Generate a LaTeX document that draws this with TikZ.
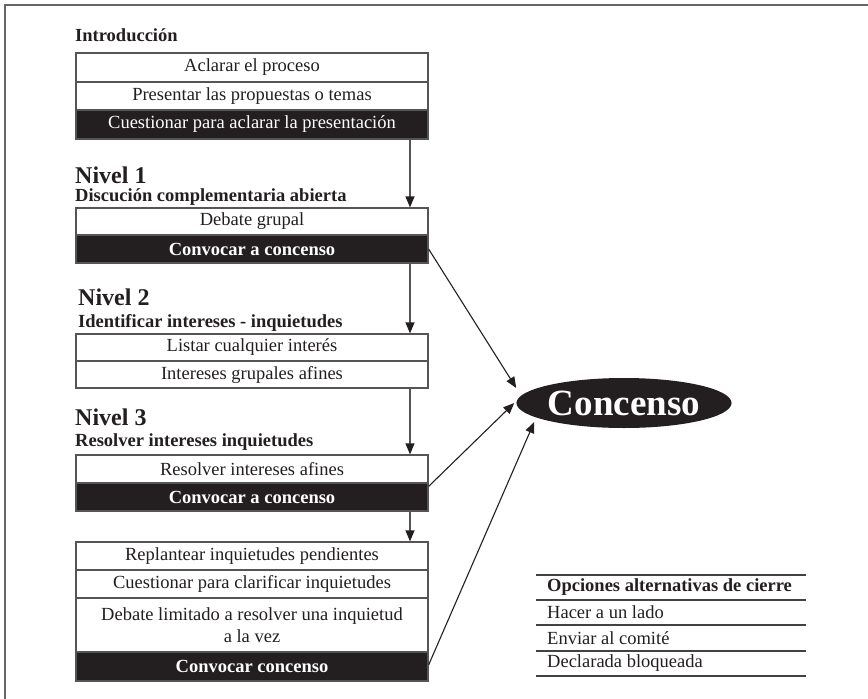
\documentclass[tikz,border=0pt]{standalone}
\usepackage{fontspec}
\setmainfont{Liberation Serif}
\usetikzlibrary{arrows.meta,shapes.geometric,calc}
\definecolor{ink}{HTML}{231F20}
\definecolor{edge}{HTML}{555555}
\begin{document}
\begin{tikzpicture}[x=1pt,y=-1pt,
  row/.style={draw=edge, line width=1.2pt, minimum width=352pt, inner sep=0pt,
    align=center, font=\fontsize{18.5}{22}\selectfont},
  wrow/.style={row, fill=white, text=ink},
  brow/.style={row, fill=ink, text=white},
  bbrow/.style={brow, font=\fontsize{18.5}{22}\selectfont\bfseries},
  head/.style={anchor=base west, inner sep=0pt, text=ink,
    font=\fontsize{18.5}{22}\selectfont\bfseries},
  level/.style={anchor=base west, inner sep=0pt, text=ink,
    font=\fontsize{24}{28}\selectfont\bfseries},
  flow/.style={draw=edge, line width=1.2pt, -{Triangle[length=11pt,width=9pt,color=ink]}},
  toward/.style={draw=ink, line width=1.1pt, -{Triangle[length=11pt,width=9pt,color=ink]}},
  opt/.style={anchor=west, inner sep=0pt, text=ink, font=\fontsize{18.5}{22}\selectfont},
  optrule/.style={draw=ink!85, line width=1.5pt},
]
\useasboundingbox (0,0) rectangle (868,699);
\clip (0,0) rectangle (868,699);

% outer frame
\draw[draw=gray!80!black, line width=1.5pt] (5,5) rectangle (880,710);

% column of the flow arrows
\coordinate (ax) at (410,0);

% introduction
\node[head] (hIntro) at (75,41) {Introducción};
\node[wrow, minimum height=29pt] (i1) at (252,67.5) {Aclarar el proceso};
\node[wrow, minimum height=28pt] (i2) at (252,96) {Presentar las propuestas o temas};
\node[brow, minimum height=29pt] (i3) at (252,124.5) {Cuestionar para aclarar la presentación};

% level 1
\node[level] (n1) at (75,183) {Nivel 1};
\node[head] (h1) at (75,201) {Discución complementaria abierta};
\node[wrow, minimum height=27pt] (d1) at (252,221.5) {Debate grupal};
\node[bbrow, minimum height=28pt] (d2) at (252,249) {Convocar a concenso};

% level 2
\node[level] (n2) at (78,305) {Nivel 2};
\node[head] (h2) at (78,327) {Identificar intereses - inquietudes};
\node[wrow, minimum height=27pt] (l1) at (252,347.5) {Listar cualquier interés};
\node[wrow, minimum height=27pt] (l2) at (252,374.5) {Intereses grupales afines};

% level 3
\node[level] (n3) at (75,425) {Nivel 3};
\node[head] (h3) at (75,446) {Resolver intereses inquietudes};
\node[wrow, minimum height=28pt] (r1) at (252,469) {Resolver intereses afines};
\node[bbrow, minimum height=28pt] (r2) at (252,497) {Convocar a concenso};

% final stage
\node[wrow, minimum height=28pt] (p1) at (252,556) {Replantear inquietudes pendientes};
\node[wrow, minimum height=28pt] (p2) at (252,584) {Cuestionar para clarificar inquietudes};
\node[wrow, minimum height=54pt] (p3) at (252,625) {Debate limitado a resolver una inquietud\\a la vez};
\node[bbrow, minimum height=29pt] (p4) at (252,666.5) {Convocar concenso};

% consensus
\node[ellipse, fill=ink, minimum width=208pt, minimum height=50pt, inner sep=0pt,
  text=white, font=\fontsize{37}{40}\selectfont\bfseries] (cons) at (624,403) {Concenso};

% downward flow
\draw[flow] (i3.south -| ax) -- (d1.north -| ax);
\draw[flow] (d2.south -| ax) -- (l1.north -| ax);
\draw[flow] (l2.south -| ax) -- (r1.north -| ax);
\draw[flow] (r2.south -| ax) -- (p1.north -| ax);

% calls to consensus
\draw[toward] (d2.east) -- ($(cons.west)+(0,-15)$);
\draw[toward] ($(r2.north east)+(0,4)$) -- ($(cons.west)+(-2,0)$);
\draw[toward] ($(p4.east)+(0,-1.5)$) -- ($(cons.west)+(18,19)$);

% alternative closing options
\node[opt, font=\fontsize{18.5}{22}\selectfont\bfseries] (o0) at (547,587.5) {Opciones alternativas de cierre};
\node[opt] (o1) at (547,612.5) {Hacer a un lado};
\node[opt] (o2) at (547,638) {Enviar al comité};
\node[opt] (o3) at (547,663.5) {Declarada bloqueada};
\foreach \yy in {575,600,625,651,676}
  \draw[optrule] (536,\yy) -- (806,\yy);
\end{tikzpicture}
\end{document}
